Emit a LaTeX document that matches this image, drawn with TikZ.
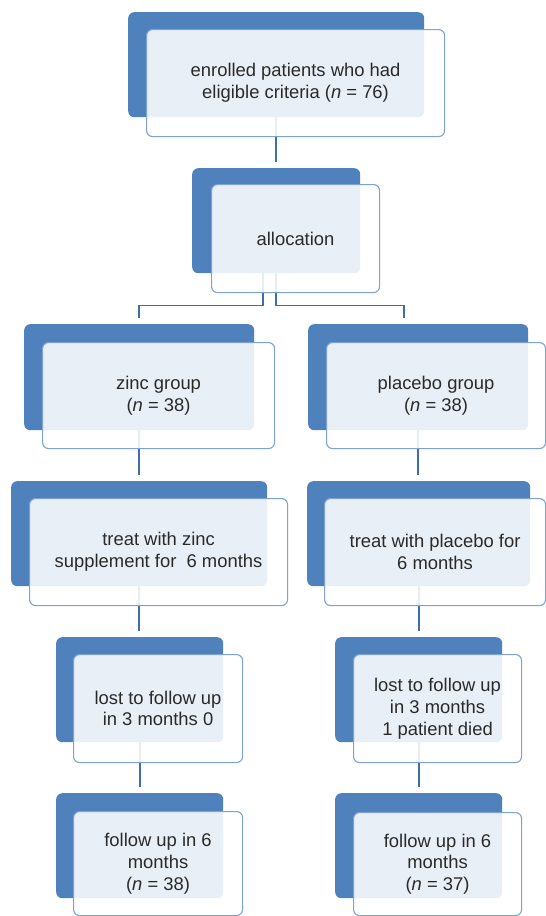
\documentclass[tikz,border=0pt]{standalone}
\usepackage{fontspec}
\setmainfont{Liberation Sans}
\definecolor{backblue}{HTML}{4F81BD}
\definecolor{frontline}{HTML}{7EA2D2}
\definecolor{connblue}{HTML}{3F6FAA}
\definecolor{txt}{HTML}{2A2A2A}
\tikzset{
  backbox/.style={rectangle, rounded corners=6pt, fill=backblue, draw=none, inner sep=0pt, anchor=north west},
  frontbox/.style={rectangle, rounded corners=6pt, draw=frontline, line width=1.1pt, fill=white, fill opacity=0.88, text opacity=1, inner sep=0pt, anchor=north west, align=center, text=txt, font=\fontsize{18.4}{21.7}\selectfont},
  conn/.style={draw=connblue, line width=1.6pt},
}
\begin{document}
\begin{tikzpicture}[x=1pt,y=-1pt]
\useasboundingbox (0,0) rectangle (546,916);
% back boxes
\node[backbox, minimum width=296pt, minimum height=105pt] (Ab) at (128,12) {};
\node[backbox, minimum width=168pt, minimum height=105pt] (Bb) at (192,168) {};
\node[backbox, minimum width=230pt, minimum height=106pt] (Cb) at (24,324) {};
\node[backbox, minimum width=220pt, minimum height=106pt] (Db) at (308,324) {};
\node[backbox, minimum width=256pt, minimum height=105pt] (Eb) at (11,481) {};
\node[backbox, minimum width=223pt, minimum height=105pt] (Fb) at (307,481) {};
\node[backbox, minimum width=167pt, minimum height=105pt] (Gb) at (56,637) {};
\node[backbox, minimum width=167pt, minimum height=105pt] (Hb) at (335,637) {};
\node[backbox, minimum width=167pt, minimum height=105pt] (Ib) at (56,793) {};
\node[backbox, minimum width=167pt, minimum height=105pt] (Jb) at (335,793) {};
% connectors
\draw[conn, shorten >=6pt] (Ab.south) -- (Bb.north);
\draw[conn, shorten >=6pt] ([xshift=-13pt]Bb.south) -- ++(0,32) -| (Cb.north);
\draw[conn, shorten >=6pt] (Bb.south) -- ++(0,32) -| ([xshift=-14pt]Db.north);
\draw[conn, shorten >=6pt] (Cb.south) -- (Cb.south |- Eb.north);
\draw[conn, shorten >=6pt] (Db.south) -- (Db.south |- Fb.north);
\draw[conn, shorten >=6pt] (Eb.south) -- (Eb.south |- Gb.north);
\draw[conn, shorten >=6pt] (Fb.south) -- (Fb.south |- Hb.north);
\draw[conn, shorten >=6pt] (Gb.south) -- (Ib.north);
\draw[conn, shorten >=6pt] (Hb.south) -- (Jb.north);
% front boxes
\node[frontbox, minimum width=298pt, minimum height=107pt] (A) at (146,29) {enrolled patients who had\\eligible criteria (\textit{n} = 76)};
\node[frontbox, minimum width=168pt, minimum height=108pt] (B) at (211,184) {allocation};
\node[frontbox, minimum width=232pt, minimum height=106pt] (C) at (42,342) {zinc group\\(\textit{n} = 38)};
\node[frontbox, minimum width=219pt, minimum height=106pt] (D) at (326,342) {placebo group\\(\textit{n} = 38)};
\node[frontbox, minimum width=258pt, minimum height=107pt] (E) at (29,498) {treat with zinc\\supplement for\ \ 6 months};
\node[frontbox, minimum width=221pt, minimum height=107pt] (F) at (324,498) {treat with placebo for\\6 months};
\node[frontbox, minimum width=169pt, minimum height=108pt] (G) at (73,654) {lost to follow up\\in 3 months 0};
\node[frontbox, minimum width=168pt, minimum height=108pt] (H) at (353,654) {lost to follow up\\in 3 months\\1 patient died};
\node[frontbox, minimum width=169pt, minimum height=104pt] (I) at (73,811) {follow up in 6\\months\\(\textit{n} = 38)};
\node[frontbox, minimum width=168pt, minimum height=103pt] (J) at (353,812) {follow up in 6\\months\\(\textit{n} = 37)};
\end{tikzpicture}
\end{document}
